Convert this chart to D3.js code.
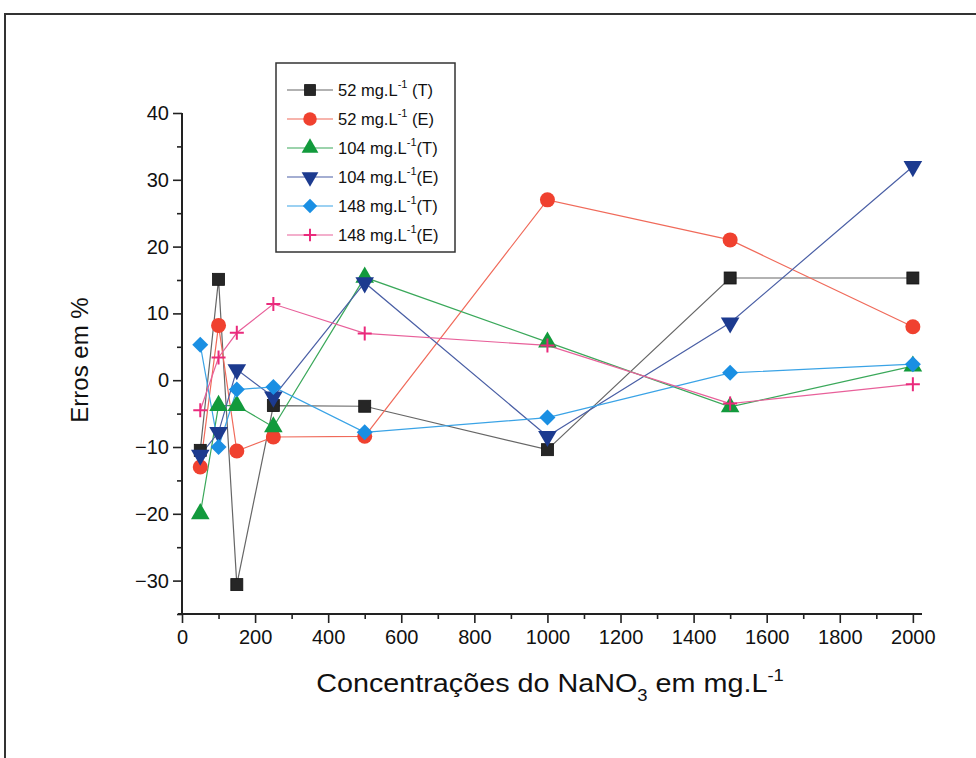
<!DOCTYPE html>
<html>
<head>
<meta charset="utf-8">
<script src="https://cdn.jsdelivr.net/npm/d3@7"></script>
<style>
  body { margin: 0; background: #fff; }
  svg { font-family: "Liberation Sans", Arial, sans-serif; }
</style>
</head>
<body>
<svg id="chart" width="976" height="758"></svg>
<script>
// x values (mg/L of NaNO3)
const concentrations = [50, 100, 150, 250, 500, 1000, 1500, 2000];

// error values in %
const s52T  = [-10.5, 15.1, -30.6, -3.8, -3.9, -10.4, 15.3, 15.3];
const s52E  = [-13.0, 8.2, -10.6, -8.5, -8.4, 27.0, 21.0, 8.0];
const s104T = [-20.0, -3.8, -3.8, -7.0, 15.4, 5.7, -4.0, 2.1];
const s104E = [-11.2, -7.8, 1.6, -2.5, 14.6, -8.4, 8.6, 32.0];
const s148T = [5.3, -10.0, -1.4, -1.0, -7.8, -5.6, 1.1, 2.4];
const s148E = [-4.5, 3.4, 7.1, 11.4, 7.0, 5.2, -3.5, -0.6];

const yTicks = [-30, -20, -10, 0, 10, 20, 30, 40];
const xTicks = [0, 200, 400, 600, 800, 1000, 1200, 1400, 1600, 1800, 2000];

const series = [
  { name: "52 mg.L", tail: " (T)", values: s52T,  marker: "square",   fill: "#262626", line: "#666" },
  { name: "52 mg.L", tail: " (E)", values: s52E,  marker: "circle",   fill: "#f0412f", line: "#f06a5a" },
  { name: "104 mg.L", tail: "(T)", values: s104T, marker: "triangle", fill: "#129a3c", line: "#3aa85a" },
  { name: "104 mg.L", tail: "(E)", values: s104E, marker: "down",     fill: "#1c3a8f", line: "#4a5fa5" },
  { name: "148 mg.L", tail: "(T)", values: s148T, marker: "diamond",  fill: "#1a8fe3", line: "#3aa3e6" },
  { name: "148 mg.L", tail: "(E)", values: s148E, marker: "plus",     fill: "#ea2a7c", line: "#e8609a" }
];

const svg = d3.select("#chart");

// outer frame of the scanned figure
svg.append("rect")
  .attr("x", 5).attr("y", 14)
  .attr("width", 990).attr("height", 800)
  .attr("fill", "none").attr("stroke", "#333").attr("stroke-width", 2);

const x = d3.scaleLinear().domain([0, 2025]).range([182, 922]);
const y = d3.scaleLinear().domain([-35, 40]).range([614, 113]);

// y axis
const yAxis = svg.append("g").attr("transform", `translate(${x(0)},0)`);
yAxis.call(d3.axisLeft(y).tickValues(yTicks).tickSize(9).tickPadding(4).tickFormat(d3.format("d")));
yAxis.append("g").call(d3.axisLeft(y).tickValues(d3.range(-35, 40, 10)).tickSize(5).tickFormat(""));
yAxis.selectAll(".domain").attr("d", `M0,${y(-35)}V${y(40)}`);

// x axis
const xAxis = svg.append("g").attr("transform", `translate(0,${y(-35)})`);
xAxis.call(d3.axisBottom(x).tickValues(xTicks).tickSize(9).tickPadding(7).tickFormat(d3.format("d")));
xAxis.append("g").call(d3.axisBottom(x).tickValues(d3.range(100, 2000, 200)).tickSize(5).tickFormat(""));
xAxis.selectAll(".domain").attr("d", `M${x(0) - 4},0H${x(2025)}`);

svg.selectAll(".domain").attr("stroke", "#222").attr("stroke-width", 2);
svg.selectAll(".tick line").attr("stroke", "#222").attr("stroke-width", 1.6);
svg.selectAll(".tick text").attr("fill", "#111").style("font-size", "20px");

// axis titles
svg.append("text")
  .attr("transform", "translate(88,360) rotate(-90)")
  .attr("text-anchor", "middle")
  .style("font-size", "24px").attr("fill", "#111")
  .text("Erros em %");

const xt = svg.append("text")
  .attr("transform", "translate(550,692) scale(1.15,1)")
  .attr("text-anchor", "middle")
  .style("font-size", "25px").attr("fill", "#111");
xt.append("tspan").text("Concentrações do NaNO");
xt.append("tspan").attr("dy", 9).style("font-size", "16px").text("3");
xt.append("tspan").attr("dy", -9).text(" em mg.L");
xt.append("tspan").attr("dy", -11).style("font-size", "16px").text("-1");

function drawMarker(g, type, fill, s) {
  if (type === "square") {
    g.append("rect").attr("x", -6 * s).attr("y", -6 * s).attr("width", 12 * s).attr("height", 12 * s)
      .attr("fill", fill).attr("stroke", "#111").attr("stroke-width", 0.8);
  } else if (type === "circle") {
    g.append("circle").attr("r", 7.5 * s).attr("fill", fill);
  } else if (type === "triangle") {
    g.append("path").attr("d", d3.symbol(d3.symbolTriangle, 150 * s * s)()).attr("fill", fill);
  } else if (type === "down") {
    g.append("path").attr("d", d3.symbol(d3.symbolTriangle, 150 * s * s)())
      .attr("transform", "rotate(180)").attr("fill", fill);
  } else if (type === "diamond") {
    const r = 8 * s;
    g.append("path").attr("d", `M0,${-r}L${r},0L0,${r}L${-r},0Z`).attr("fill", fill);
  } else if (type === "plus") {
    const r = 7 * s;
    g.append("path").attr("d", `M${-r},0H${r}M0,${-r}V${r}`)
      .attr("stroke", fill).attr("stroke-width", 2).attr("fill", "none");
  }
}

const line = d3.line().x((d, i) => x(concentrations[i])).y(d => y(d));

series.forEach(s => {
  svg.append("path")
    .datum(s.values)
    .attr("d", line)
    .attr("fill", "none")
    .attr("stroke", s.line)
    .attr("stroke-width", 1.2);
});

series.forEach(s => {
  s.values.forEach((v, i) => {
    const g = svg.append("g").attr("transform", `translate(${x(concentrations[i])},${y(v)})`);
    drawMarker(g, s.marker, s.fill, 1);
  });
});

// legend
const legend = svg.append("g");
legend.append("rect")
  .attr("x", 276).attr("y", 63).attr("width", 179).attr("height", 189)
  .attr("fill", "#fff").attr("stroke", "#333").attr("stroke-width", 1.5);

series.forEach((s, i) => {
  const ly = 90 + i * 29;
  legend.append("line")
    .attr("x1", 287).attr("x2", 333).attr("y1", ly).attr("y2", ly)
    .attr("stroke", s.line).attr("stroke-width", 1.2);
  const g = legend.append("g").attr("transform", `translate(310,${ly})`);
  drawMarker(g, s.marker, s.fill, 0.9);
  const t = legend.append("text")
    .attr("x", 338).attr("y", ly + 6)
    .style("font-size", "16.5px").attr("fill", "#111");
  t.append("tspan").text(s.name);
  t.append("tspan").attr("dy", -8).style("font-size", "11px").text("-1");
  t.append("tspan").attr("dy", 8).text(s.tail);
});
</script>
</body>
</html>
